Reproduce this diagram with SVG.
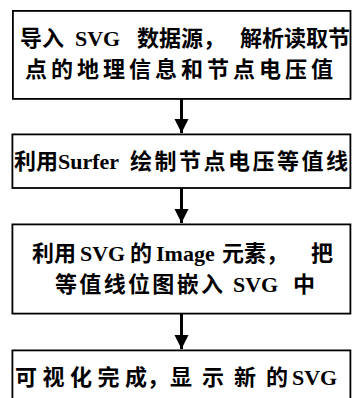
<svg xmlns="http://www.w3.org/2000/svg" width="353" height="398" viewBox="0 0 353 398">
<defs>
<style>
.box{fill:#fff;stroke:#000;stroke-width:1.8}
.t{font-family:"Liberation Serif","Noto Sans CJK SC",serif;font-size:22px;font-weight:bold;fill:#000}
.c{stroke:#000;stroke-width:3;fill:none}
</style>
<marker id="ah" markerUnits="userSpaceOnUse" markerWidth="16" markerHeight="15" refX="15" refY="7.5" orient="auto" viewBox="0 0 15 16">
<path d="M0,0 L15,7.5 L0,15 Z" fill="#000"/>
</marker>
</defs>
<rect width="353" height="398" fill="#fff"/>
<g id="connectors">
<line class="c" x1="181.5" y1="99" x2="181.5" y2="133" marker-end="url(#ah)"/>
<line class="c" x1="181.5" y1="188" x2="181.5" y2="223" marker-end="url(#ah)"/>
<line class="c" x1="181.5" y1="314" x2="181.5" y2="349" marker-end="url(#ah)"/>
</g>
<g id="n1">
<rect class="box" x="12.9" y="10.9" width="337.6" height="88"/>
<text class="t" y="46"><tspan x="20" textLength="44" lengthAdjust="spacing">导入</tspan><tspan x="75">SVG</tspan><tspan x="137">数据源，</tspan><tspan x="240" textLength="110" lengthAdjust="spacing">解析读取节</tspan></text>
<text class="t" x="25" y="77" textLength="308" lengthAdjust="spacing">点的地理信息和节点电压值</text>
</g>
<g id="n2">
<rect class="box" x="12.4" y="134.4" width="338" height="53.6"/>
<text class="t" y="169"><tspan x="14">利用</tspan><tspan x="58">Surfer</tspan><tspan x="130" textLength="218" lengthAdjust="spacing">绘制节点电压等值线</tspan></text>
</g>
<g id="n3">
<rect class="box" x="12.4" y="224.4" width="338" height="89.2"/>
<text class="t" y="261"><tspan x="32">利用</tspan><tspan x="80">SVG</tspan><tspan x="130">的</tspan><tspan x="156">Image</tspan><tspan x="222">元素，</tspan><tspan x="311">把</tspan></text>
<text class="t" y="292"><tspan x="55" textLength="168" lengthAdjust="spacing">等值线位图嵌入</tspan><tspan x="233">SVG</tspan><tspan x="293">中</tspan></text>
</g>
<g id="n4">
<rect class="box" x="12.4" y="350.4" width="338" height="60"/>
<text class="t" y="385"><tspan x="15" textLength="132" lengthAdjust="spacing">可视化完成</tspan><tspan x="147">，</tspan><tspan x="170" textLength="118" lengthAdjust="spacing">显示新的</tspan><tspan x="292">SVG</tspan></text>
</g>
</svg>
